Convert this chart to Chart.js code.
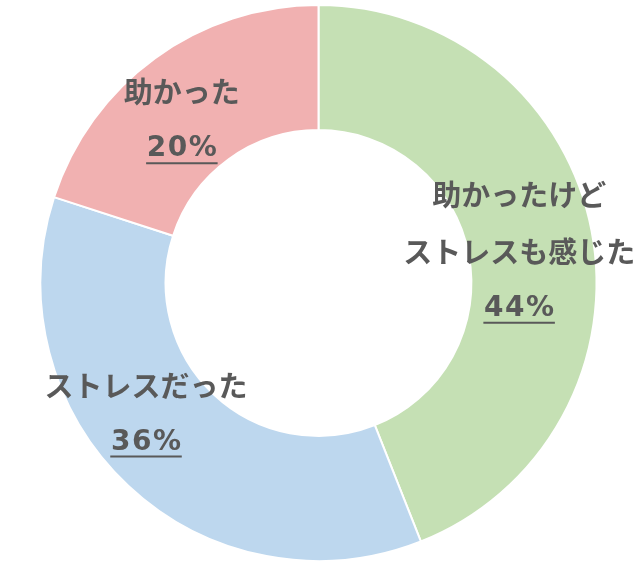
<!DOCTYPE html>
<html>
<head>
<meta charset="utf-8">
<script src="https://cdn.jsdelivr.net/npm/chart.js@4"></script>
<style>
  html, body { margin: 0; padding: 0; background: #fff; }
  #wrap { width: 640px; height: 563px; }
</style>
</head>
<body>
<div id="wrap"><canvas id="pieChart"></canvas></div>
<script>
// answers, clockwise from the top
const categories = ['助かったけど\nストレスも感じた', 'ストレスだった', '助かった'];
const shares = [44, 36, 20];
const sliceColors = ['#c5e0b4', '#bdd7ee', '#f1b1b1'];

// nudge each label block away from the slice centroid (px)
const labelNudge = [[-11, 9], [-25, -26], [-10, 12]];

const labelFont = "bold 29px 'Noto Sans CJK JP', sans-serif";
const pctFont = "bold 28px 'DejaVu Sans', 'Noto Sans CJK JP', sans-serif";
const lineGap = 57;

// draws the category name + underlined percentage on each slice
const sliceLabels = {
  id: 'sliceLabels',
  afterDatasetsDraw(chart) {
    const ctx = chart.ctx;
    const arcs = chart.getDatasetMeta(0).data;
    ctx.save();
    ctx.fillStyle = '#595959';
    ctx.strokeStyle = '#595959';
    ctx.textAlign = 'center';
    ctx.textBaseline = 'middle';
    arcs.forEach((arc, i) => {
      const pos = arc.tooltipPosition();
      const lines = categories[i].split('\n');
      const pct = shares[i] + '%';
      const total = lines.length + 1;
      const cx = pos.x + labelNudge[i][0];
      const cy = pos.y + labelNudge[i][1];
      let y = cy - (total - 1) * lineGap / 2;
      ctx.font = labelFont;
      ctx.letterSpacing = '0px';
      lines.forEach(line => {
        ctx.fillText(line, cx, y);
        y += lineGap;
      });
      ctx.font = pctFont;
      ctx.letterSpacing = '1.5px';
      const w = ctx.measureText(pct).width;
      ctx.fillText(pct, cx + 0.75, y);
      ctx.lineWidth = 2;
      ctx.beginPath();
      ctx.moveTo(cx - w / 2, y + 14);
      ctx.lineTo(cx + w / 2, y + 14);
      ctx.stroke();
    });
    ctx.restore();
  }
};

const ctx = document.getElementById('pieChart').getContext('2d');
const pieChart = new Chart(ctx, {
  type: 'doughnut',
  data: {
    labels: categories,
    datasets: [{
      data: shares,
      backgroundColor: sliceColors,
      borderColor: '#ffffff',
      borderWidth: 2,
      hoverOffset: 0
    }]
  },
  options: {
    responsive: true,
    maintainAspectRatio: false,
    animation: false,
    cutout: '55%',
    layout: { padding: { left: 0, right: 3, top: 4, bottom: 1 } },
    plugins: {
      legend: { display: false },
      tooltip: { enabled: false }
    }
  },
  plugins: [sliceLabels]
});
</script>
</body>
</html>
